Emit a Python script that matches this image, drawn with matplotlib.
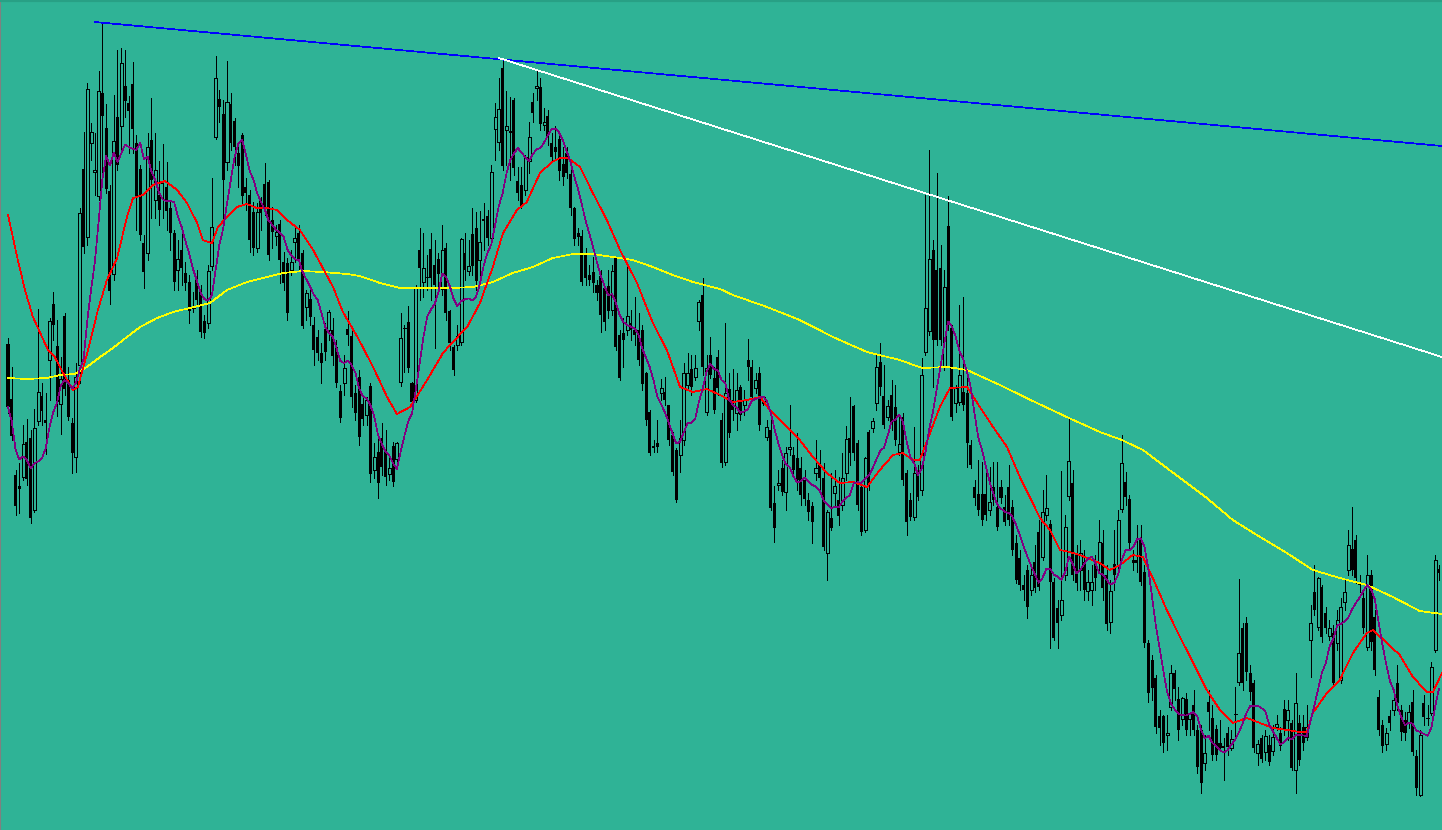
import matplotlib
matplotlib.use("Agg")
import matplotlib.pyplot as plt
import numpy as np
import pandas as pd

# candle prices (arbitrary points), left to right
opens = [
    486, 431, 355, 344, 353, 388, 392, 320, 409, 434, 410, 470, 526, 484, 426, 514, 450, 407, 373, 465,
    661, 593, 687, 658, 634, 737, 702, 639, 556, 713, 704, 744, 727, 746, 687, 661, 587, 577, 690, 630,
    635, 647, 643, 622, 597, 560, 580, 557, 548, 522, 550, 539, 509, 507, 564, 693, 731, 716, 668, 726,
    709, 677, 695, 643, 635, 618, 582, 631, 646, 648, 610, 594, 606, 568, 567, 560, 588, 597, 577, 523,
    531, 505, 493, 477, 501, 500, 500, 483, 439, 447, 501, 494, 437, 453, 426, 415, 444, 360, 378, 392,
    378, 356, 384, 371, 448, 502, 508, 447, 430, 580, 548, 553, 581, 565, 571, 541, 582, 519, 483, 485,
    488, 577, 559, 596, 602, 570, 611, 614, 592, 701, 688, 762, 700, 699, 730, 649, 645, 640, 669, 728,
    742, 743, 705, 714, 687, 683, 691, 666, 677, 656, 622, 597, 594, 575, 555, 558, 545, 554, 542, 544,
    520, 572, 495, 497, 500, 507, 500, 500, 500, 457, 418, 384, 387, 437, 438, 425, 395, 380, 375, 390,
    445, 461, 453, 509, 535, 418, 475, 452, 473, 410, 368, 441, 430, 417, 443, 425, 470, 463, 442, 457,
    427, 393, 400, 327, 345, 362, 338, 381, 375, 372, 362, 350, 330, 324, 357, 365, 352, 277, 312, 337,
    330, 325, 357, 392, 424, 387, 343, 300, 398, 402, 427, 468, 434, 413, 435, 423, 378, 413, 357, 330,
    313, 357, 340, 478, 499, 580, 560, 562, 464, 604, 502, 427, 428, 438, 437, 385, 343, 336, 336, 336,
    320, 343, 323, 343, 323, 343, 323, 287, 272, 245, 260, 240, 268, 298, 273, 315, 306, 248, 222, 215,
    255, 334, 347, 277, 260, 268, 239, 240, 267, 268, 287, 255, 208, 266, 265, 321, 348, 331, 270, 270,
    291, 258, 187, 170, 152, 114, 114, 95, 123, 157, 131, 111, 131, 111, 125, 100, 100, 67, 128, 112,
    101, 87, 84, 97, 82, 116, 148, 202, 207, 157, 147, 77, 92, 78, 85, 79, 103, 97, 121, 110,
    107, 60, 107, 103, 93, 190, 238, 203, 243, 217, 194, 197, 187, 150, 228, 260, 281, 290, 247, 232,
    183, 255, 213, 133, 105, 86, 114, 120, 147, 120, 110, 108, 128, 74, 35, 127, 112, 117, 180, 261,
]
closes = [
    423, 394, 324, 341, 386, 351, 312, 402, 438, 419, 407, 509, 505, 428, 451, 441, 413, 377, 453, 617,
    583, 741, 698, 660, 739, 714, 641, 539, 689, 665, 767, 729, 719, 701, 633, 595, 558, 683, 650, 660,
    620, 646, 619, 597, 548, 571, 562, 547, 519, 524, 530, 498, 497, 559, 603, 752, 723, 650, 728, 687,
    683, 664, 634, 637, 590, 582, 618, 617, 623, 575, 598, 598, 570, 547, 517, 568, 592, 570, 504, 537,
    513, 480, 477, 467, 478, 518, 474, 447, 412, 462, 495, 433, 417, 393, 411, 430, 356, 373, 347, 363,
    353, 362, 348, 387, 492, 502, 462, 428, 543, 562, 562, 553, 552, 545, 556, 580, 517, 487, 460, 494,
    591, 560, 564, 564, 549, 588, 609, 592, 658, 713, 721, 664, 704, 697, 662, 637, 623, 673, 693, 717,
    744, 706, 708, 693, 673, 678, 659, 653, 657, 622, 591, 593, 548, 552, 550, 547, 537, 515, 508, 519,
    559, 483, 452, 490, 514, 500, 495, 470, 446, 410, 377, 382, 383, 442, 430, 390, 358, 330, 392, 457,
    457, 443, 462, 528, 463, 462, 455, 420, 442, 367, 437, 397, 420, 440, 415, 430, 463, 433, 450, 405,
    433, 403, 322, 302, 347, 338, 377, 383, 360, 350, 335, 331, 318, 308, 362, 352, 283, 318, 302, 344,
    314, 352, 391, 377, 377, 325, 298, 372, 344, 409, 463, 443, 405, 424, 405, 390, 386, 350, 308, 313,
    357, 333, 455, 522, 571, 490, 490, 490, 543, 508, 413, 442, 455, 425, 387, 365, 332, 320, 310, 315,
    328, 330, 303, 332, 308, 310, 280, 250, 245, 240, 223, 255, 242, 243, 318, 322, 248, 192, 207, 230,
    303, 369, 255, 247, 277, 240, 248, 248, 252, 288, 242, 206, 239, 255, 310, 367, 333, 287, 267, 267,
    248, 187, 137, 142, 103, 102, 87, 97, 157, 141, 100, 132, 100, 116, 100, 63, 47, 77, 118, 75,
    75, 82, 82, 83, 91, 116, 177, 147, 158, 138, 82, 86, 71, 94, 68, 93, 106, 84, 100, 120,
    62, 127, 70, 87, 103, 207, 220, 252, 193, 202, 202, 147, 210, 223, 238, 285, 260, 252, 245, 202,
    255, 188, 160, 100, 84, 97, 107, 130, 127, 98, 97, 118, 78, 42, 95, 113, 112, 163, 270, 257,
]
highs = [
    492, 463, 360, 367, 405, 411, 400, 421, 521, 447, 437, 512, 538, 510, 473, 517, 463, 412, 467, 622,
    698, 747, 707, 697, 759, 807, 726, 645, 735, 780, 782, 780, 734, 768, 695, 665, 595, 697, 732, 697,
    669, 686, 668, 628, 600, 590, 597, 568, 555, 538, 560, 545, 515, 565, 652, 774, 740, 730, 769, 737,
    712, 683, 697, 652, 640, 628, 627, 633, 667, 650, 623, 605, 610, 578, 572, 580, 605, 605, 580, 540,
    540, 513, 500, 487, 507, 520, 512, 490, 445, 475, 519, 500, 445, 460, 432, 433, 447, 387, 397, 407,
    400, 375, 388, 388, 517, 505, 524, 448, 545, 602, 597, 575, 597, 590, 577, 605, 587, 520, 485, 505,
    592, 597, 590, 622, 618, 619, 627, 620, 665, 727, 752, 770, 739, 733, 732, 663, 663, 675, 708, 737,
    761, 752, 722, 720, 697, 704, 697, 683, 683, 660, 623, 602, 600, 582, 565, 573, 550, 560, 543, 560,
    565, 573, 500, 512, 563, 520, 533, 517, 505, 458, 420, 390, 410, 451, 453, 425, 398, 382, 410, 467,
    477, 475, 475, 530, 552, 475, 493, 463, 480, 417, 507, 457, 461, 457, 445, 440, 491, 470, 457, 463,
    434, 410, 417, 344, 360, 370, 383, 425, 383, 397, 373, 360, 337, 328, 390, 380, 367, 320, 357, 360,
    353, 377, 404, 433, 425, 390, 345, 373, 400, 412, 477, 487, 465, 430, 450, 445, 415, 417, 360, 337,
    403, 365, 472, 635, 680, 590, 657, 585, 560, 634, 505, 445, 525, 533, 455, 390, 350, 370, 368, 365,
    363, 368, 368, 350, 335, 365, 330, 295, 280, 255, 265, 265, 285, 310, 340, 355, 310, 252, 230, 359,
    315, 412, 360, 285, 290, 280, 260, 265, 275, 310, 300, 265, 250, 300, 320, 395, 358, 335, 280, 305,
    305, 265, 190, 175, 155, 120, 115, 115, 165, 160, 143, 133, 137, 117, 140, 105, 105, 95, 140, 125,
    105, 110, 92, 103, 100, 143, 251, 207, 213, 165, 150, 90, 95, 100, 95, 105, 115, 103, 130, 130,
    110, 157, 115, 115, 125, 225, 265, 253, 245, 223, 210, 205, 220, 232, 250, 300, 323, 295, 255, 240,
    275, 260, 220, 140, 110, 102, 120, 140, 165, 125, 118, 125, 140, 80, 100, 135, 125, 168, 275, 265,
]
lows = [
    417, 390, 315, 317, 350, 345, 307, 318, 405, 405, 376, 430, 490, 414, 396, 435, 410, 357, 358, 447,
    577, 585, 670, 635, 630, 643, 637, 526, 550, 660, 677, 713, 677, 677, 600, 590, 542, 570, 612, 612,
    605, 612, 600, 580, 540, 540, 545, 540, 507, 518, 525, 493, 492, 502, 560, 691, 708, 603, 660, 680,
    665, 643, 625, 620, 578, 575, 578, 600, 615, 570, 582, 585, 547, 540, 510, 555, 568, 560, 502, 510,
    505, 465, 470, 447, 470, 490, 465, 443, 408, 435, 485, 423, 410, 385, 405, 405, 348, 352, 332, 355,
    345, 350, 344, 368, 444, 458, 458, 425, 428, 530, 533, 540, 530, 482, 540, 535, 510, 480, 455, 480,
    485, 550, 555, 555, 540, 545, 580, 585, 590, 670, 680, 660, 665, 650, 655, 630, 622, 635, 657, 708,
    730, 700, 700, 685, 668, 670, 650, 645, 652, 615, 585, 585, 545, 545, 545, 538, 530, 498, 500, 512,
    515, 480, 450, 463, 495, 490, 485, 465, 440, 405, 375, 378, 378, 430, 425, 385, 355, 328, 358, 385,
    440, 435, 450, 500, 455, 415, 452, 417, 435, 363, 365, 393, 410, 400, 410, 415, 450, 430, 437, 400,
    425, 390, 320, 288, 340, 335, 320, 375, 355, 340, 325, 325, 310, 287, 350, 340, 280, 250, 300, 325,
    305, 320, 350, 365, 370, 320, 295, 298, 340, 398, 420, 435, 402, 410, 400, 385, 375, 345, 295, 310,
    310, 330, 335, 475, 495, 443, 485, 485, 460, 500, 410, 418, 425, 420, 363, 362, 325, 315, 305, 310,
    315, 325, 300, 327, 305, 305, 275, 247, 240, 230, 212, 235, 238, 240, 270, 310, 182, 190, 182, 210,
    250, 330, 250, 240, 240, 230, 230, 225, 240, 260, 230, 200, 197, 240, 260, 318, 325, 282, 260, 258,
    245, 183, 128, 130, 97, 85, 78, 80, 120, 130, 90, 105, 95, 95, 95, 57, 37, 60, 100, 70,
    70, 80, 50, 75, 80, 90, 145, 140, 150, 130, 78, 65, 68, 70, 65, 75, 100, 80, 95, 90,
    60, 37, 65, 80, 90, 153, 215, 200, 188, 197, 190, 143, 180, 147, 220, 255, 255, 247, 238, 197,
    180, 180, 155, 95, 78, 80, 100, 115, 120, 90, 90, 102, 75, 35, 34, 105, 105, 115, 178, 250,
]

# slow moving averages, sampled at bar positions
red_x = [0, 2.6, 4.5, 6.6, 10.6, 12.4, 14.6, 17.2, 18.5, 21.2, 23.8, 26.2, 28.9, 31.5, 33.1, 35.8,
         38.4, 41.6, 44.8, 47.4, 50.1, 51.6, 54.0, 55.6, 58.0, 60.6, 63.3, 65.9, 68.6, 71.2, 73.9,
         77.3, 80.8, 86.1, 88.7, 92.7, 96.7, 100.4, 103.0, 106.5, 111.0, 115.2, 117.8, 121.6, 125.0,
         128.4, 131.1, 134.8, 137.4, 140.9, 144.1, 146.2, 148.3, 151.5, 154.9, 158.6, 162.1, 166.6,
         170.8, 174.5, 178.0, 181.4, 185.1, 188.6, 192.0, 195.7, 199.2, 201.8, 206.3, 209.7, 213.2,
         216.9, 220.3, 223.8, 227.5, 230.9, 234.4, 237.0, 239.7, 241.5, 244.2, 246.8, 249.5, 254.0,
         257.4, 260.9, 264.6, 268.0, 271.4, 273.3, 276.0, 278.6, 281.2, 283.9, 289.2, 291.8, 294.5,
         297.9, 300.6, 303.2, 306.9, 310.4, 313.8, 317.5, 321.0, 324.4, 328.1, 331.6, 335.0, 338.7,
         342.2, 344.0, 345.6, 349.3, 352.7, 356.2, 359.9, 361.5, 365.2, 368.6, 372.1, 375.8, 377.4,
         379.8]
red_ma = [615, 570, 540, 513, 480, 473, 457, 440, 443, 480, 520, 550, 572, 613, 632, 635,
          645, 649, 640, 627, 607, 590, 587, 603, 613, 623, 626, 622, 622, 620, 610,
          600, 580, 543, 518, 492, 463, 433, 416, 423, 450, 477, 488, 503, 527,
          563, 597, 620, 628, 657, 668, 672, 672, 663, 637, 610, 580, 547,
          507, 480, 443, 438, 441, 435, 428, 430, 433, 420, 403, 390, 373,
          357, 347, 348, 343, 360, 375, 377, 370, 370, 397, 423, 442, 443,
          423, 403, 383, 353, 327, 312, 300, 280, 278, 275, 267, 260, 265,
          275, 273, 252, 220, 193, 168, 140, 120, 107, 112, 107, 102, 100,
          98, 98, 117, 137, 150, 177, 197, 200, 187, 175, 153, 138, 138,
          157]
yellow_x = [0, 5.0, 10.3, 13.8, 17.7, 20.9, 24.4, 27.8, 31.5, 35.0, 39.5, 43.7, 48.2, 53.5, 58.0,
            63.3, 68.6, 72.8, 78.1, 83.4, 89.8, 93.2, 98.5, 103.8, 111.0, 117.8, 123.1, 128.4,
            133.7, 139.0, 144.3, 149.6, 154.9, 160.2, 165.5, 170.8, 176.1, 181.4, 188.6, 192.0,
            201.0, 209.7, 218.5, 227.5, 236.2, 242.1, 248.7, 254.0, 262.7, 271.4, 280.4, 289.2,
            295.0, 300.6, 306.9, 312.2, 317.5, 324.4, 331.6, 338.7, 345.6, 352.7, 359.9, 366.8,
            373.9, 379.8]
yellow_ma = [452, 451, 452, 455, 456, 463, 473, 482, 493, 503, 512, 518, 522, 527, 540,
             548, 553, 557, 559, 558, 556, 554, 547, 542, 542, 542, 543, 548,
             557, 563, 572, 576, 576, 573, 570, 563, 555, 548, 541, 535,
             523, 510, 493, 478, 470, 462, 463, 460, 445, 429, 413, 398,
             390, 380, 362, 347, 332, 310, 293, 277, 260, 252, 245, 233,
             219, 216]

# trend lines: (bar, price) at start and end
blue_trend = [(23.0, 808), (379.8, 684)]
white_trend = [(130.0, 772), (379.8, 473)]

bg = '#2fb396'
px = 0.72  # one pixel in points at dpi 100
thin = 0.5
o = np.array(opens)
c = np.array(closes)
h = np.array(highs)
l = np.array(lows)
idx = np.arange(len(c))
up = c >= o

fig = plt.figure(figsize=(14.42, 8.30), dpi=100)
fig.patch.set_facecolor(bg)
ax = fig.add_axes([0, 0, 1, 1])
ax.set_facecolor(bg)

# wicks
ax.vlines(idx, l, h, color='black', linewidth=px, antialiased=False, zorder=2)

# bodies: bearish filled, bullish hollow
body = np.abs(c - o)
bottom = np.minimum(o, c)
ax.bar(idx[~up], np.maximum(body[~up], 1), bottom=bottom[~up], width=0.8,
       color='black', linewidth=0, antialiased=False, zorder=3)
ax.bar(idx[up], body[up], bottom=bottom[up], width=0.8, facecolor=bg,
       edgecolor='black', linewidth=px, antialiased=False, zorder=3)

# moving averages
fast_ma = pd.Series(c, dtype=float).rolling(8, min_periods=1).mean()
ax.plot(yellow_x, yellow_ma, color='#ffff00', linewidth=thin, antialiased=False, zorder=4)
ax.plot(red_x, red_ma, color='#ff0000', linewidth=thin, antialiased=False, zorder=4)
ax.plot(idx, fast_ma, color='#800080', linewidth=thin, antialiased=False, zorder=5)

# trend lines
for line, col in [(blue_trend, '#0000ff'), (white_trend, '#ffffff')]:
    xs = [p[0] for p in line]
    ys = [p[1] for p in line]
    ax.plot(xs, ys, color=col, linewidth=thin, antialiased=False, zorder=6)

ax.set_xlim(-2.12, 379.8)
ax.set_ylim(0, 830)
ax.set_xticks([])
ax.set_yticks([])
for side in ['right', 'bottom']:
    ax.spines[side].set_visible(False)
ax.spines['left'].set_color('#808080')
ax.spines['left'].set_linewidth(1.5)
ax.spines['top'].set_color('#28a085')
ax.spines['top'].set_linewidth(3)

fig.savefig('out.png', dpi=100, facecolor=bg)
